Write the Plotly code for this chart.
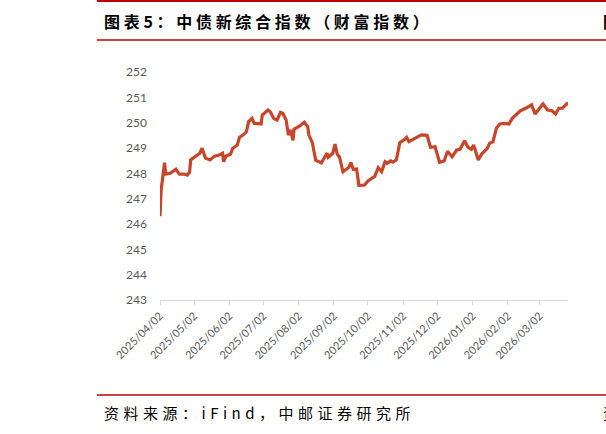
import plotly.graph_objects as go

dates = [
    "2025-04-02", "2025-04-03", "2025-04-06", "2025-04-07", "2025-04-11", "2025-04-16",
    "2025-04-19", "2025-04-23", "2025-04-26", "2025-04-28", "2025-04-29", "2025-05-03",
    "2025-05-07", "2025-05-09", "2025-05-12", "2025-05-16", "2025-05-20", "2025-05-24",
    "2025-05-27", "2025-05-28", "2025-05-30", "2025-06-03", "2025-06-05", "2025-06-09",
    "2025-06-11", "2025-06-14", "2025-06-17", "2025-06-19", "2025-06-22", "2025-06-24",
    "2025-06-28", "2025-06-30", "2025-07-01", "2025-07-06", "2025-07-08", "2025-07-11",
    "2025-07-14", "2025-07-17", "2025-07-19", "2025-07-22", "2025-07-24", "2025-07-26",
    "2025-07-28", "2025-07-29", "2025-08-02", "2025-08-07", "2025-08-10", "2025-08-11",
    "2025-08-14", "2025-08-17", "2025-08-22", "2025-08-24", "2025-08-27", "2025-08-28",
    "2025-09-01", "2025-09-03", "2025-09-05", "2025-09-07", "2025-09-10", "2025-09-15",
    "2025-09-17", "2025-09-19", "2025-09-22", "2025-09-24", "2025-09-29", "2025-10-02",
    "2025-10-08", "2025-10-11", "2025-10-14", "2025-10-17", "2025-10-19", "2025-10-22",
    "2025-10-24", "2025-10-27", "2025-10-30", "2025-11-03", "2025-11-05", "2025-11-07",
    "2025-11-13", "2025-11-18", "2025-11-23", "2025-11-26", "2025-11-30", "2025-12-04",
    "2025-12-08", "2025-12-11", "2025-12-15", "2025-12-19", "2025-12-22", "2025-12-26",
    "2025-12-29", "2026-01-01", "2026-01-03", "2026-01-07", "2026-01-10", "2026-01-15",
    "2026-01-17", "2026-01-20", "2026-01-23", "2026-01-26", "2026-01-30", "2026-02-03",
    "2026-02-06", "2026-02-09", "2026-02-13", "2026-02-19", "2026-02-23", "2026-02-26",
    "2026-03-01", "2026-03-05", "2026-03-09", "2026-03-13", "2026-03-16", "2026-03-19",
    "2026-03-22", "2026-03-24", "2026-03-27",
]

index_values = [
    246.31, 247.34, 248.42, 247.97, 248.00, 248.16,
    247.97, 247.97, 247.93, 248.04, 248.53, 248.68,
    248.79, 248.99, 248.60, 248.53, 248.68, 248.72,
    248.79, 248.46, 248.68, 248.75, 248.99, 249.12,
    249.42, 249.51, 249.64, 250.04, 250.17, 249.97,
    249.95, 249.95, 250.30, 250.50, 250.43, 250.17,
    250.10, 250.41, 250.37, 250.10, 249.51, 249.71,
    249.30, 249.75, 249.84, 250.02, 249.84, 249.51,
    249.22, 248.52, 248.41, 248.59, 248.80, 248.63,
    248.79, 249.15, 248.75, 248.64, 248.06, 248.23,
    248.43, 248.16, 248.17, 247.52, 247.54, 247.70,
    247.88, 248.22, 248.07, 248.46, 248.40, 248.49,
    248.44, 248.53, 249.21, 249.33, 249.42, 249.25,
    249.38, 249.52, 249.50, 249.03, 249.05, 248.44,
    248.49, 248.87, 248.65, 248.92, 248.95, 249.29,
    249.03, 248.95, 249.12, 248.53, 248.76, 248.99,
    249.18, 249.25, 249.78, 249.95, 249.97, 249.95,
    250.17, 250.30, 250.47, 250.60, 250.70, 250.34,
    250.53, 250.74, 250.50, 250.47, 250.34, 250.57,
    250.57, 250.66, 250.79,
]

tick_dates = [
    "2025-04-02", "2025-05-02", "2025-06-02", "2025-07-02", "2025-08-02", "2025-09-02",
    "2025-10-02", "2025-11-02", "2025-12-02", "2026-01-02", "2026-02-02", "2026-03-02",
]
tick_labels = [
    "2025/04/02", "2025/05/02", "2025/06/02", "2025/07/02", "2025/08/02", "2025/09/02",
    "2025/10/02", "2025/11/02", "2025/12/02", "2026/01/02", "2026/02/02", "2026/03/02",
]
y_ticks = [243, 244, 245, 246, 247, 248, 249, 250, 251, 252]

title_text = "图表5：中债新综合指数（财富指数）"
source_text = "资料来源：iFind，中邮证券研究所"

fig = go.Figure()
fig.add_trace(go.Scatter(
    x=dates, y=index_values, mode="lines",
    line=dict(color="#C9452A", width=3.2),
    showlegend=False, hoverinfo="skip",
))

W, H = 606, 434
L, R, T, B = 160, 568, 72, 300

fig.update_layout(
    width=W, height=H,
    margin=dict(l=L, r=W - R, t=T, b=H - B),
    paper_bgcolor="white", plot_bgcolor="white",
    font=dict(family="Lato, 'Noto Sans CJK SC', sans-serif", color="#595959"),
    xaxis=dict(
        type="date",
        range=[dates[0], dates[-1]],
        tickvals=tick_dates, ticktext=tick_labels,
        tickangle=-45,
        tickfont=dict(size=11, color="#595959"),
        showgrid=False, zeroline=False,
        showline=True, linecolor="#D9D9D9", linewidth=1.3,
        ticks="outside", ticklen=4, tickcolor="#D9D9D9", tickwidth=1,
    ),
    yaxis=dict(
        range=[243, 252],
        tickvals=y_ticks,
        tickfont=dict(size=12, color="#595959"),
        showgrid=False, zeroline=False, showline=False,
        ticks="", ticklabelstandoff=12,
    ),
)


def px_x(x):
    return (x - L) / (R - L)


def px_y(y):
    return (B - y) / (B - T)


red = "#C00000"
for y0, wdt in [(1, 2), (40, 1.5), (395, 1.5)]:
    fig.add_shape(type="line", xref="paper", yref="paper",
                  x0=px_x(97), x1=px_x(W + 5),
                  y0=px_y(y0), y1=px_y(y0),
                  line=dict(color=red, width=wdt))

cjk = "'Noto Sans CJK SC', sans-serif"
fig.add_annotation(text=title_text, xref="paper", yref="paper",
                   x=px_x(102), y=px_y(21), xanchor="left", yanchor="middle",
                   showarrow=False, align="left",
                   font=dict(family=cjk, size=16, color="#000000", weight="bold"))
fig.add_annotation(text="图", xref="paper", yref="paper",
                   x=px_x(601), y=px_y(21), xanchor="left", yanchor="middle",
                   showarrow=False, align="left",
                   font=dict(family=cjk, size=16, color="#000000", weight="bold"))
fig.add_annotation(text=source_text, xref="paper", yref="paper",
                   x=px_x(102), y=px_y(412), xanchor="left", yanchor="middle",
                   showarrow=False, align="left",
                   font=dict(family=cjk, size=15, color="#000000"))
fig.add_annotation(text="资", xref="paper", yref="paper",
                   x=px_x(601), y=px_y(412), xanchor="left", yanchor="middle",
                   showarrow=False, align="left",
                   font=dict(family=cjk, size=15, color="#000000"))

post = """
var gd = document.getElementById('{plot_id}');
function spacing() {
  var anns = gd.querySelectorAll('g.annotation');
  anns.forEach(function(a) {
    var idx = a.getAttribute('data-index');
    var t = a.querySelector('text');
    if (!t) return;
    if (idx === '0') t.style.letterSpacing = '3.7px';
    if (idx === '2') t.style.letterSpacing = '4.5px';
  });
}
spacing();
gd.on('plotly_afterplot', spacing);
"""

fig.write_html("out.html", post_script=post)
